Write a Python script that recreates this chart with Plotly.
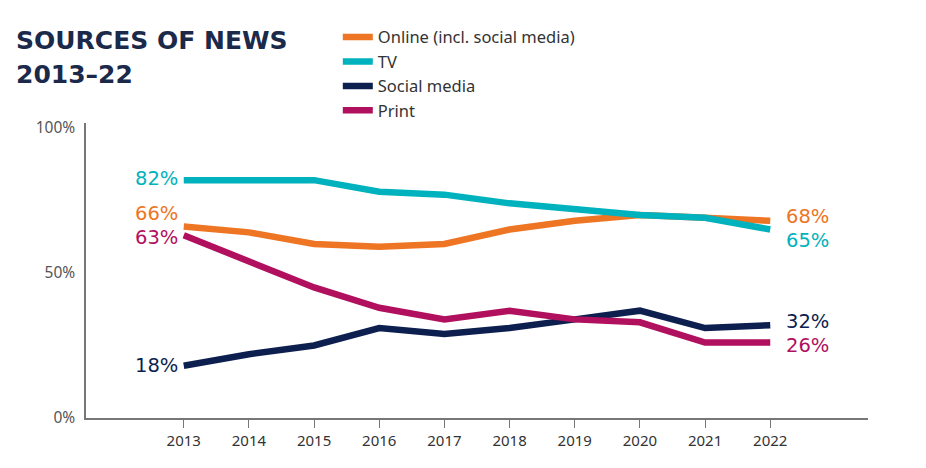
import plotly.graph_objects as go

years = [2013, 2014, 2015, 2016, 2017, 2018, 2019, 2020, 2021, 2022]
online = [66, 64, 60, 59, 60, 65, 68, 70, 69, 68]
tv = [82, 82, 82, 78, 77, 74, 72, 70, 69, 65]
social = [18, 22, 25, 31, 29, 31, 34, 37, 31, 32]
printed = [63, 54, 45, 38, 34, 37, 34, 33, 26, 26]

series = [
    ("Online (incl. social media)", online, "#EE7523", 13, 4),
    ("TV", tv, "#00B2BD", 2, -11),
    ("Social media", social, "#0D1F4F", 0, 4),
    ("Print", printed, "#B0105E", -2, -3),
]

fig = go.Figure()
for name, vals, color, ls, rs in series:
    fig.add_trace(go.Scatter(x=years, y=vals, name=name, mode="lines",
                             line=dict(color=color, width=6.5)))
    fig.add_annotation(x=years[0], y=vals[0], text=f"{vals[0]}%", showarrow=False,
                       xanchor="right", xshift=-4, yshift=ls,
                       font=dict(family="DejaVu Sans", size=19.5, color=color))
    fig.add_annotation(x=years[-1], y=vals[-1], text=f"{vals[-1]}%", showarrow=False,
                       xanchor="left", xshift=14, yshift=rs,
                       font=dict(family="DejaVu Sans", size=19.5, color=color))

fig.add_annotation(xref="paper", yref="paper", x=-0.092, y=1.278, xanchor="left", yanchor="middle",
                   text="<b>SOURCES OF NEWS</b>", showarrow=False,
                   font=dict(family="DejaVu Sans", size=25, color="#1B2A4A"))
fig.add_annotation(xref="paper", yref="paper", x=-0.092, y=1.163, xanchor="left", yanchor="middle",
                   text="<b>2013–22</b>", showarrow=False,
                   font=dict(family="DejaVu Sans", size=25, color="#1B2A4A"))

fig.update_layout(
    width=918, height=460,
    margin=dict(l=78, r=58, t=115, b=50),
    paper_bgcolor="white", plot_bgcolor="white",
    showlegend=True,
    legend=dict(x=0.322, y=1.35, xanchor="left", yanchor="top",
                font=dict(family="Noto Sans", size=16.5, color="#333"),
                itemwidth=30, tracegroupgap=0, bgcolor="rgba(0,0,0,0)"),
    xaxis=dict(range=[2011.5, 2023.5], tickvals=years, ticktext=[str(y) for y in years],
               showgrid=False, zeroline=False, showline=True, linecolor="#777", linewidth=1.5,
               ticks="outside", ticklen=8, tickcolor="#777",
               tickfont=dict(family="Noto Sans", size=15, color="#333")),
    yaxis=dict(range=[0, 101.7], tickvals=[0, 50, 100], ticktext=["0%", "50%", "100%"],
               showgrid=False, zeroline=False, showline=True, linecolor="#777", linewidth=1.5,
               ticks="", ticklabelstandoff=6,
               tickfont=dict(family="Noto Sans", size=15.5, color="#555")),
)

fig.write_html("out.html")
